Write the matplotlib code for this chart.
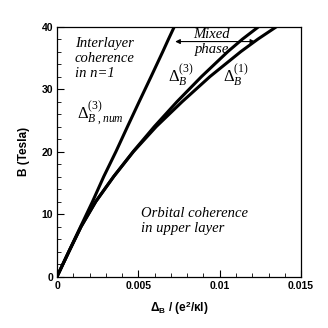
#### Workspace setup ####
import matplotlib
matplotlib.use('Agg')
import matplotlib.pyplot as plt

plt.rcParams['mathtext.fontset'] = 'custom'
plt.rcParams['mathtext.rm'] = 'Liberation Serif'
plt.rcParams['mathtext.it'] = 'Liberation Serif:italic'
plt.rcParams['mathtext.bf'] = 'Liberation Sans:bold'
plt.rcParams['mathtext.sf'] = 'Liberation Sans'

# B field (Tesla) and gap values
b_field = [0, 4, 8, 12, 16, 20, 24, 28, 32, 36, 38, 40]
delta_num3 = [0, 0.00072, 0.00145, 0.00218, 0.00287, 0.00362, 0.00433,
              0.00505, 0.00578, 0.00650, 0.00685, 0.00721]
delta_3 = [0, 0.00073, 0.00148, 0.00238, 0.00348, 0.00468, 0.00598,
           0.00738, 0.00888, 0.01050, 0.01140, 0.01240]
delta_1 = [0, 0.00073, 0.00148, 0.00238, 0.00348, 0.00470, 0.00610,
           0.00770, 0.00940, 0.01130, 0.01235, 0.01350]

x_ticks = [0, 0.005, 0.01, 0.015]
x_ticklabels = ['0', '0.005', '0.01', '0.015']
y_ticks = [0, 10, 20, 30, 40]
y_ticklabels = ['0', '10', '20', '30', '40']

serif = dict(family='Liberation Serif', style='italic', fontsize=10.5)

fig = plt.figure(figsize=(3.28, 3.28), dpi=100)
ax = fig.add_axes([0.174, 0.157, 0.744, 0.762])

for xs in (delta_num3, delta_3, delta_1):
    ax.plot(xs, b_field, color='black', lw=2.2, solid_capstyle='butt',
            solid_joinstyle='round')

ax.set_xlim(0, 0.015)
ax.set_ylim(0, 40)
ax.set_xticks(x_ticks)
ax.set_xticklabels(x_ticklabels)
ax.set_yticks(y_ticks)
ax.set_yticklabels(y_ticklabels)
ax.set_xticks([i * 0.001 for i in range(16)], minor=True)
ax.set_yticks(list(range(0, 41, 2)), minor=True)
ax.tick_params(which='major', direction='in', length=5, width=0.8, pad=3)
ax.tick_params(which='minor', direction='in', length=3, width=0.6)
for lab in ax.get_xticklabels() + ax.get_yticklabels():
    lab.set_fontfamily('Liberation Sans')
    lab.set_fontweight('bold')
    lab.set_fontsize(7.5)
for sp in ax.spines.values():
    sp.set_linewidth(0.9)

ax.set_xlabel('Δ$_\\mathbf{B}$ / (e$^\\mathbf{2}$/κl)', family='Liberation Sans',
              fontweight='bold', fontsize=8.5, labelpad=6)
ax.set_ylabel('B (Tesla)', family='Liberation Sans', fontweight='bold',
              fontsize=8.5, labelpad=8)

# region labels (baseline refers to the last line)
ax.text(0.0011, 31.9, 'Interlayer\ncoherence\nin n=1', va='baseline', ha='left', **serif)
ax.text(0.00515, 7.1, 'Orbital coherence\nin upper layer', va='baseline', ha='left', **serif)
ax.text(0.0095, 35.7, 'Mixed\nphase', va='baseline', ha='center', ma='center', **serif)
ax.annotate('', xy=(0.00726, 37.6), xytext=(0.01218, 37.6),
            arrowprops=dict(arrowstyle='<|-|>', color='black', lw=0.8,
                            mutation_scale=7, shrinkA=0, shrinkB=0))

# curve labels
ax.text(0.00123, 25.1, r'$\Delta_{B\ ,num}^{\mathit{(3)}}$', fontsize=12, va='baseline')
ax.text(0.00683, 31.2, r'$\Delta_{B}^{\mathit{(3)}}$', fontsize=12, va='baseline')
ax.text(0.0102, 31.2, r'$\Delta_{B}^{\mathit{(1)}}$', fontsize=12, va='baseline')

plt.savefig('out.png', dpi=100)
plt.close()
